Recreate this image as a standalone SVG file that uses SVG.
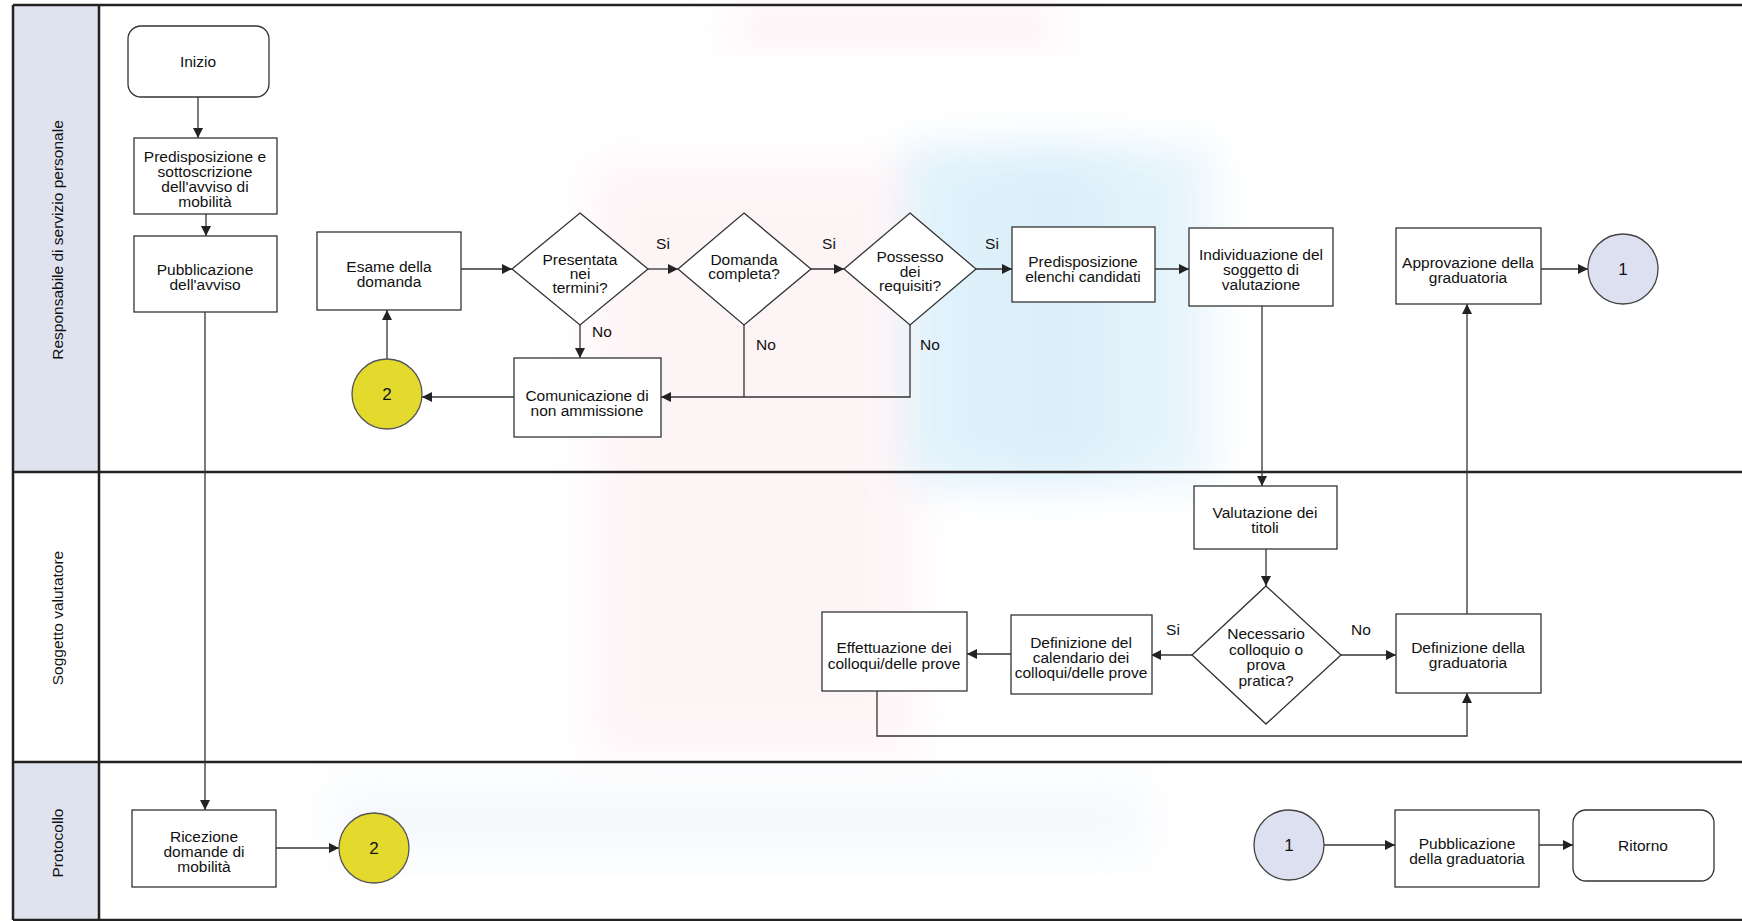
<svg xmlns="http://www.w3.org/2000/svg" width="1742" height="921" viewBox="0 0 1742 921">
<defs>
<style>
.box{fill:#ffffff;stroke:#333333;stroke-width:1.3}
.t{font-family:"Liberation Sans",Arial,sans-serif;font-size:15.5px;fill:#111111;text-anchor:middle}
.lbl{font-family:"Liberation Sans",Arial,sans-serif;font-size:15.5px;fill:#111111;text-anchor:middle}
.num{font-family:"Liberation Sans",Arial,sans-serif;font-size:17px;fill:#111111;text-anchor:middle}
.lane{fill:none;stroke:#222222;stroke-width:2.5}
.con{fill:none;stroke:#333333;stroke-width:1.3}
</style>
<marker id="ah" viewBox="0 0 10 10" refX="10" refY="5" markerWidth="10" markerHeight="10" markerUnits="userSpaceOnUse" orient="auto">
<path d="M0,0 L10,5 L0,10 z" fill="#222222"/>
</marker>
<filter id="blur" x="-20%" y="-20%" width="140%" height="140%"><feGaussianBlur stdDeviation="22"/></filter>
<filter id="blur2" x="-30%" y="-30%" width="160%" height="160%"><feGaussianBlur stdDeviation="20"/></filter>
<linearGradient id="bg" x1="0" y1="0" x2="1" y2="0">
<stop offset="0" stop-color="#d6eefa"/>
<stop offset="0.5" stop-color="#cbe8f8"/>
<stop offset="1" stop-color="#e3f3fb"/>
</linearGradient>
</defs>
<rect x="0" y="0" width="1742" height="921" fill="#ffffff"/>
<g id="watermark">
<rect x="590" y="160" width="330" height="600" fill="#fdeef1" filter="url(#blur)" opacity="0.6"/>
<rect x="730" y="8" width="330" height="40" fill="#fbe3e8" filter="url(#blur)" opacity="0.5"/>
<rect x="905" y="145" width="310" height="340" fill="url(#bg)" filter="url(#blur2)" opacity="0.7"/>
<rect x="330" y="780" width="820" height="80" fill="#eef4fb" filter="url(#blur)" opacity="0.5"/>
</g>
<g id="lanes">
<rect x="13" y="5" width="86" height="467" fill="#dfe3f0"/>
<rect x="13" y="472" width="86" height="290" fill="#ffffff"/>
<rect x="13" y="762" width="86" height="158" fill="#dfe3f0"/>
<line class="lane" x1="13" y1="5" x2="1742" y2="5"/>
<line class="lane" x1="13" y1="472" x2="1742" y2="472"/>
<line class="lane" x1="13" y1="762" x2="1742" y2="762"/>
<line class="lane" x1="13" y1="920" x2="1742" y2="920"/>
<line class="lane" x1="13" y1="5" x2="13" y2="920"/>
<line class="lane" x1="99" y1="5" x2="99" y2="920"/>
<text class="lbl" transform="translate(63,240) rotate(-90)">Responsabile di servizio personale</text>
<text class="lbl" transform="translate(63,618) rotate(-90)">Soggetto valutatore</text>
<text class="lbl" transform="translate(63,843) rotate(-90)">Protocollo</text>
</g>
<g id="connectors">
<line class="con" x1="198" y1="97" x2="198" y2="138" marker-end="url(#ah)"/>
<line class="con" x1="206" y1="214" x2="206" y2="236" marker-end="url(#ah)"/>
<line class="con" x1="205" y1="312" x2="205" y2="810" marker-end="url(#ah)"/>
<line class="con" x1="276" y1="848" x2="339" y2="848" marker-end="url(#ah)"/>
<line class="con" x1="387" y1="359" x2="387" y2="310" marker-end="url(#ah)"/>
<line class="con" x1="461" y1="269" x2="512" y2="269" marker-end="url(#ah)"/>
<line class="con" x1="648" y1="269" x2="678" y2="269" marker-end="url(#ah)"/>
<line class="con" x1="811" y1="269" x2="844" y2="269" marker-end="url(#ah)"/>
<line class="con" x1="976" y1="269" x2="1012" y2="269" marker-end="url(#ah)"/>
<line class="con" x1="1155" y1="269" x2="1189" y2="269" marker-end="url(#ah)"/>
<line class="con" x1="580" y1="325" x2="580" y2="358" marker-end="url(#ah)"/>
<polyline class="con" points="744,325 744,397"/>
<polyline class="con" points="910,325 910,397 661,397" marker-end="url(#ah)"/>
<line class="con" x1="514" y1="397" x2="422" y2="397" marker-end="url(#ah)"/>
<line class="con" x1="1262" y1="306" x2="1262" y2="486" marker-end="url(#ah)"/>
<line class="con" x1="1266" y1="549" x2="1266" y2="586" marker-end="url(#ah)"/>
<line class="con" x1="1192" y1="655" x2="1151" y2="655" marker-end="url(#ah)"/>
<line class="con" x1="1011" y1="654" x2="967" y2="654" marker-end="url(#ah)"/>
<line class="con" x1="1341" y1="655" x2="1396" y2="655" marker-end="url(#ah)"/>
<polyline class="con" points="877,691 877,736 1467,736 1467,693" marker-end="url(#ah)"/>
<line class="con" x1="1467" y1="614" x2="1467" y2="304" marker-end="url(#ah)"/>
<line class="con" x1="1541" y1="269" x2="1588" y2="269" marker-end="url(#ah)"/>
<line class="con" x1="1324" y1="845" x2="1395" y2="845" marker-end="url(#ah)"/>
<line class="con" x1="1539" y1="845" x2="1573" y2="845" marker-end="url(#ah)"/>
</g>
<g id="labels">
<text class="t" x="663" y="249">Si</text>
<text class="t" x="829" y="249">Si</text>
<text class="t" x="992" y="249">Si</text>
<text class="t" x="602" y="337">No</text>
<text class="t" x="766" y="350">No</text>
<text class="t" x="930" y="350">No</text>
<text class="t" x="1173" y="635">Si</text>
<text class="t" x="1361" y="635">No</text>
</g>
<g id="n-inizio">
<rect class="box" x="128" y="26" width="141" height="71" rx="13"/>
<text class="t" x="198" y="67">Inizio</text>
</g>
<g id="n-predisposizione">
<rect class="box" x="134" y="138" width="143" height="76"/>
<text class="t" x="205" y="162">Predisposizione e<tspan x="205" dy="15">sottoscrizione</tspan><tspan x="205" dy="15">dell'avviso di</tspan><tspan x="205" dy="15">mobilità</tspan></text>
</g>
<g id="n-pubblicazione">
<rect class="box" x="134" y="236" width="143" height="76"/>
<text class="t" x="205" y="275">Pubblicazione<tspan x="205" dy="15">dell'avviso</tspan></text>
</g>
<g id="n-esame">
<rect class="box" x="317" y="232" width="144" height="78"/>
<text class="t" x="389" y="272">Esame della<tspan x="389" dy="15">domanda</tspan></text>
</g>
<g id="n-presentata">
<polygon class="box" points="580,213 648,269 580,325 512,269"/>
<text class="t" x="580" y="265">Presentata<tspan x="580" dy="14">nei</tspan><tspan x="580" dy="14">termini?</tspan></text>
</g>
<g id="n-domanda">
<polygon class="box" points="744,213 811,269 744,325 678,269"/>
<text class="t" x="744" y="265">Domanda<tspan x="744" dy="14">completa?</tspan></text>
</g>
<g id="n-possesso">
<polygon class="box" points="910,213 976,269 910,325 844,269"/>
<text class="t" x="910" y="262">Possesso<tspan x="910" dy="14.5">dei</tspan><tspan x="910" dy="14.5">requisiti?</tspan></text>
</g>
<g id="n-elenchi">
<rect class="box" x="1012" y="227" width="143" height="75"/>
<text class="t" x="1083" y="267">Predisposizione<tspan x="1083" dy="15">elenchi candidati</tspan></text>
</g>
<g id="n-individuazione">
<rect class="box" x="1189" y="228" width="144" height="78"/>
<text class="t" x="1261" y="260">Individuazione del<tspan x="1261" dy="15">soggetto di</tspan><tspan x="1261" dy="15">valutazione</tspan></text>
</g>
<g id="n-approvazione">
<rect class="box" x="1396" y="228" width="145" height="76"/>
<text class="t" x="1468" y="268">Approvazione della<tspan x="1468" dy="15">graduatoria</tspan></text>
</g>
<g id="n-conn1-top">
<circle cx="1623" cy="269" r="35" fill="#dde0f0" stroke="#444444" stroke-width="1.3"/>
<text class="num" x="1623" y="275">1</text>
</g>
<g id="n-comunicazione">
<rect class="box" x="514" y="358" width="147" height="79"/>
<text class="t" x="587" y="401">Comunicazione di<tspan x="587" dy="15">non ammissione</tspan></text>
</g>
<g id="n-conn2-top">
<circle cx="387" cy="394" r="35" fill="#e4da2e" stroke="#555555" stroke-width="1.3"/>
<text class="num" x="387" y="400">2</text>
</g>
<g id="n-valutazione">
<rect class="box" x="1194" y="486" width="143" height="63"/>
<text class="t" x="1265" y="518">Valutazione dei<tspan x="1265" dy="15">titoli</tspan></text>
</g>
<g id="n-necessario">
<polygon class="box" points="1266,586 1341,655 1266,724 1192,655"/>
<text class="t" x="1266" y="639">Necessario<tspan x="1266" dy="15.5">colloquio o</tspan><tspan x="1266" dy="15.5">prova</tspan><tspan x="1266" dy="15.5">pratica?</tspan></text>
</g>
<g id="n-calendario">
<rect class="box" x="1011" y="615" width="141" height="79"/>
<text class="t" x="1081" y="648">Definizione del<tspan x="1081" dy="15">calendario dei</tspan><tspan x="1081" dy="15">colloqui/delle prove</tspan></text>
</g>
<g id="n-effettuazione">
<rect class="box" x="822" y="612" width="145" height="79"/>
<text class="t" x="894" y="653">Effettuazione dei<tspan x="894" dy="15.5">colloqui/delle prove</tspan></text>
</g>
<g id="n-definizione">
<rect class="box" x="1396" y="614" width="145" height="79"/>
<text class="t" x="1468" y="653">Definizione della<tspan x="1468" dy="15">graduatoria</tspan></text>
</g>
<g id="n-ricezione">
<rect class="box" x="132" y="810" width="144" height="77"/>
<text class="t" x="204" y="842">Ricezione<tspan x="204" dy="15">domande di</tspan><tspan x="204" dy="15">mobilità</tspan></text>
</g>
<g id="n-conn2-bottom">
<circle cx="374" cy="848" r="35" fill="#e4da2e" stroke="#555555" stroke-width="1.3"/>
<text class="num" x="374" y="854">2</text>
</g>
<g id="n-conn1-bottom">
<circle cx="1289" cy="845" r="35" fill="#dde0f0" stroke="#444444" stroke-width="1.3"/>
<text class="num" x="1289" y="851">1</text>
</g>
<g id="n-pubblicazione-graduatoria">
<rect class="box" x="1395" y="810" width="144" height="77"/>
<text class="t" x="1467" y="849">Pubblicazione<tspan x="1467" dy="15">della graduatoria</tspan></text>
</g>
<g id="n-ritorno">
<rect class="box" x="1573" y="810" width="141" height="71" rx="13"/>
<text class="t" x="1643" y="851">Ritorno</text>
</g>
</svg>
